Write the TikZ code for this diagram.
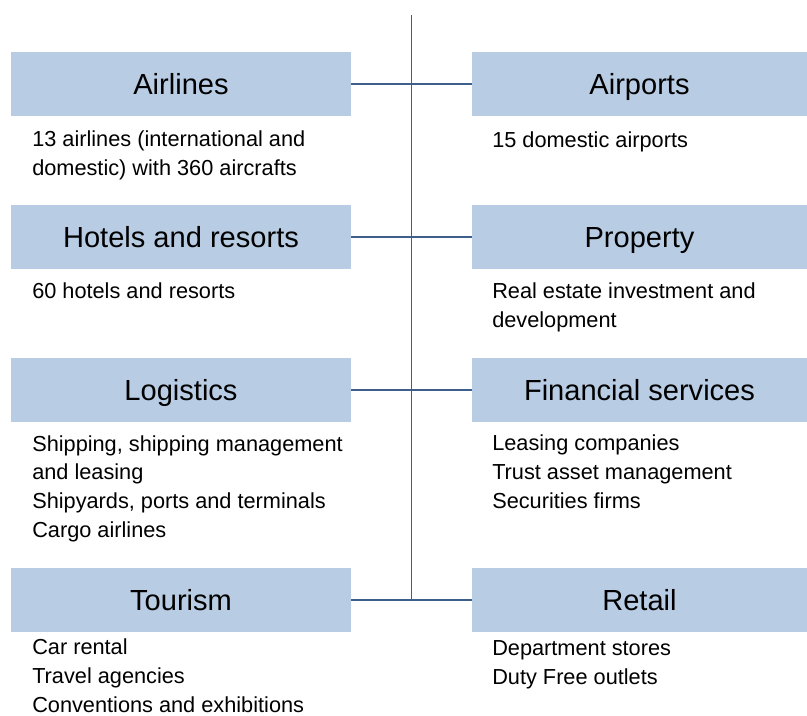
\documentclass[tikz,border=0pt]{standalone}
\usepackage{fontspec}
\setmainfont{Liberation Sans}
\definecolor{boxblue}{RGB}{184,204,228}
\definecolor{linkblue}{RGB}{62,94,140}

\begin{document}
\begin{tikzpicture}[x=0.75pt, y=-0.75pt,
  sector/.style={fill=boxblue, inner sep=0pt, minimum height=48pt,
    font=\fontsize{21.8}{25}\selectfont, text height=15.6pt, text depth=0pt},
  leftsector/.style={sector, minimum width=255pt},
  rightsector/.style={sector, minimum width=251.25pt},
  detail/.style={anchor=base west, inner sep=0pt, align=left,
    font=\fontsize{16.3}{21.4}\selectfont},
  link/.style={draw=linkblue, line width=1.3pt}]
\useasboundingbox (0,0) rectangle (807,715);

\node[leftsector] (airlines) at (181, 84) {Airlines};
\node[rightsector] (airports) at (639.5, 84) {Airports};
\node[leftsector] (hotels) at (181, 237) {Hotels and resorts};
\node[rightsector] (property) at (639.5, 237) {Property};
\node[leftsector] (logistics) at (181, 390) {Logistics};
\node[rightsector] (finance) at (639.5, 390) {Financial services};
\node[leftsector] (tourism) at (181, 600) {Tourism};
\node[rightsector] (retail) at (639.5, 600) {Retail};

% detail texts: placed at the baseline of their last line
\node[detail] (airlinestext) at (32, 175) {13 airlines (international and\\domestic) with 360 aircrafts};
\node[detail] (airportstext) at (492, 147) {15 domestic airports};
\node[detail] (hotelstext) at (32, 298) {60 hotels and resorts};
\node[detail] (propertytext) at (492, 327) {Real estate investment and\\development};
\node[detail] (logisticstext) at (32, 537) {Shipping, shipping management\\and leasing\\Shipyards, ports and terminals\\Cargo airlines};
\node[detail] (financetext) at (492, 508) {Leasing companies\\Trust asset management\\Securities firms};
\node[detail] (tourismtext) at (32, 712) {Car rental\\Travel agencies\\Conventions and exhibitions};
\node[detail] (retailtext) at (492, 684) {Department stores\\Duty Free outlets};

\coordinate (spine) at (411.5, 15);
\draw[link] (spine) -- (spine |- tourism.east);
\draw[link] (airlines) -- (airports);
\draw[link] (hotels) -- (property);
\draw[link] (logistics) -- (finance);
\draw[link] (tourism) -- (retail);

\end{tikzpicture}
\end{document}
